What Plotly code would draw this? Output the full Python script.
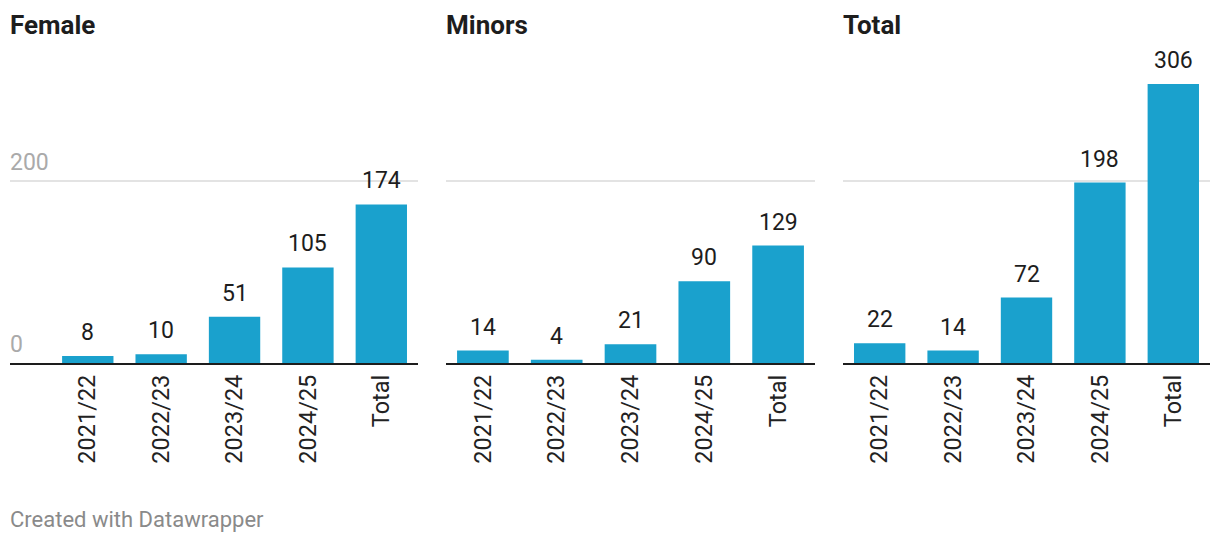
import plotly.graph_objects as go

categories = ["2021/22", "2022/23", "2023/24", "2024/25", "Total"]
female = [8, 10, 51, 105, 174]
minors = [14, 4, 21, 90, 129]
total = [22, 14, 72, 198, 306]
panel_titles = ["Female", "Minors", "Total"]
series = [female, minors, total]
y_ticks = [0, 200]

W, H = 1220, 544
BAR = "#1aa1cd"
FONT = "Roboto"

# pixel layout
x_dom_px = [(10, 418), (446, 815), (843, 1210)]
x_ranges = [[-1.06, 4.5], [-0.5, 4.5], [-0.5, 4.5]]
y_bottom_px, y_top_px = 363.3, 62.0
y_range = [0, 330]

fig = go.Figure()
for i, vals in enumerate(series):
    n = "" if i == 0 else str(i + 1)
    fig.add_trace(go.Bar(x=categories, y=vals, marker_color=BAR, marker_line_width=0,
                         xaxis="x" + n, yaxis="y" + n, hoverinfo="skip"))
    x0, x1 = x_dom_px[i]
    fig.layout["xaxis" + n] = dict(
        domain=[x0 / W, x1 / W], range=x_ranges[i], type="category",
        anchor="y" + n, showline=True, linecolor="#1d1d1d", linewidth=2,
        showgrid=False, zeroline=False, tickangle=-90, ticks="",
        tickfont=dict(family=FONT, size=23.5, color="#222222"), fixedrange=True)
    fig.layout["yaxis" + n] = dict(
        domain=[(H - y_bottom_px) / H, (H - y_top_px) / H], range=y_range,
        anchor="x" + n, showgrid=True, gridcolor="#e3e3e3", gridwidth=2,
        tickvals=y_ticks[1:], showticklabels=False, zeroline=False, fixedrange=True)
    # value labels
    for c, v in zip(categories, vals):
        fig.add_annotation(x=c, y=v, xref="x" + n, yref="y" + n, text=str(v),
                           showarrow=False, yanchor="bottom", yshift=8,
                           font=dict(family=FONT, size=23, color="#1d1d1d"))
    # panel titles
    fig.add_annotation(x=x0 / W, y=1 - 8 / H, xref="paper", yref="paper",
                       text="<b>" + panel_titles[i] + "</b>", showarrow=False,
                       xanchor="left", yanchor="top", xshift=-2,
                       font=dict(family=FONT, size=26, color="#1d1d1d"))

# y tick labels (first panel only)
for t in y_ticks:
    fig.add_annotation(x=10 / W, y=t, xref="paper", yref="y", text=str(t),
                       showarrow=False, xanchor="left", yanchor="bottom", yshift=3,
                       xshift=-2, font=dict(family=FONT, size=23, color="#aaaaaa"))

fig.add_annotation(x=10 / W, y=(H - 505) / H, xref="paper", yref="paper",
                   text="Created with Datawrapper", showarrow=False,
                   xanchor="left", yanchor="top", xshift=-2,
                   font=dict(family=FONT, size=22, color="#8a8a8a"))

fig.update_layout(width=W, height=H, margin=dict(l=0, r=0, t=0, b=0),
                  paper_bgcolor="white", plot_bgcolor="white", showlegend=False,
                  bargap=0.3)
fig.write_html("out.html", config={"displayModeBar": False},
               post_script="document.body.style.margin='0';")
